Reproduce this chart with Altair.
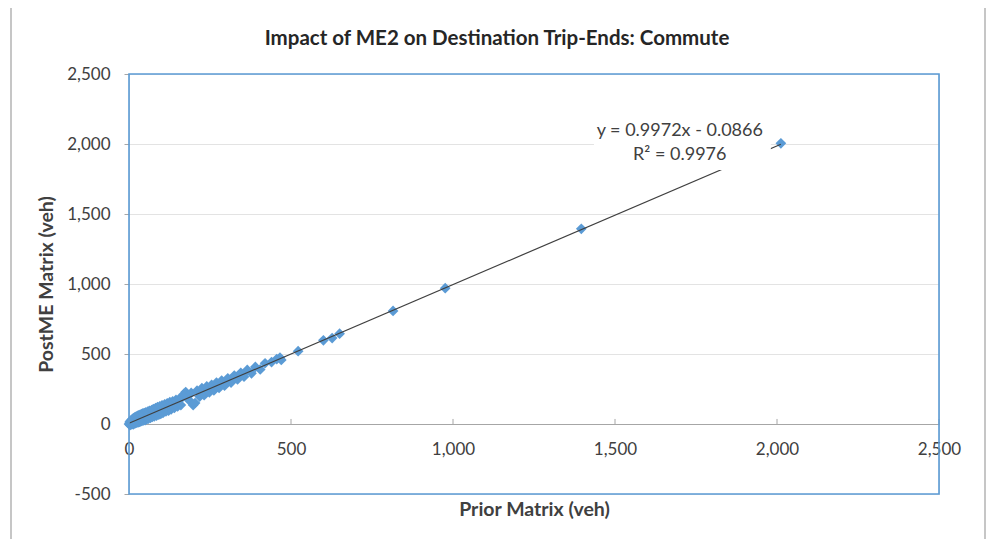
import altair as alt
import pandas as pd

# ---- data ----
prior = [0, 2, 3, 5, 6, 8, 10, 11, 13, 15, 17, 18, 20, 22, 24, 26, 28, 30, 32, 34,
         36, 38, 40, 43, 45, 47, 50, 52, 55, 58, 60, 63, 66, 70, 72, 75, 78, 82, 85, 88,
         92, 95, 98, 102, 105, 110, 114, 118, 122, 126, 130, 135, 140, 145, 150, 155, 160, 165, 170, 175,
         180, 186, 192, 198, 204, 210, 218, 225, 232, 240, 248, 255, 262, 270, 278, 286, 295, 305, 315, 325,
         335, 345, 355, 365, 378, 390, 405, 420, 440, 456, 466, 470, 522, 600, 627, 650, 815, 976, 1396, 2012]
post = [0, 14, -8, 22, -4, 28, 0, 36, -2, 42, 4, 48, 6, 52, 10, 58, 12, 62, 15, 66,
        18, 70, 22, 76, 25, 78, 28, 84, 34, 88, 38, 94, 44, 100, 50, 106, 55, 114, 60, 120,
        66, 126, 72, 134, 80, 140, 90, 148, 95, 156, 104, 162, 115, 172, 125, 180, 135, 192, 215, 228,
        196, 168, 222, 135, 150, 238, 196, 256, 206, 268, 226, 280, 240, 296, 258, 310, 274, 326, 296, 346,
        318, 366, 338, 386, 362, 408, 390, 434, 442, 464, 474, 458, 520, 598, 614, 645, 808, 970, 1394, 2005]

x_ticks = [0, 500, 1000, 1500, 2000, 2500]
y_ticks = [-500, 0, 500, 1000, 1500, 2000, 2500]
chart_title = "Impact of ME2 on Destination Trip-Ends: Commute"
x_title = "Prior Matrix (veh)"
y_title = "PostME Matrix (veh)"
eq_text = ["y = 0.9972x - 0.0866", "R² = 0.9976"]
eq_x = [1700, 1700]
eq_y = [2093, 1921]
box_x = [1435]
box_x2 = [1981]
box_y = [1814]
box_y2 = [2207]

W, H = 810, 420
BLUE = "#5b9bd5"
TXT = "#404040"
FONT = "Lato"
LABEL_EXPR = "datum.value < 0 ? '-' + format(-datum.value, ',') : format(datum.value, ',')"

df = pd.DataFrame({"prior": prior, "post": post})
xs = alt.Scale(domain=[0, 2500], nice=False, zero=False)
ys = alt.Scale(domain=[-500, 2500], nice=False, zero=False)

xa = alt.Axis(
    values=x_ticks, labelExpr=LABEL_EXPR, title=x_title, offset=-70, grid=False,
    domainColor="#a6a6a6", domainWidth=1, ticks=False, labelPadding=17,
    labelFlush=False, labelFontSize=17, labelColor=TXT, labelFont=FONT,
    titleFont=FONT, titleFontSize=19.5, titleFontWeight="bold", titleColor=TXT,
    titlePadding=43)
ya = alt.Axis(
    values=y_ticks, labelExpr=LABEL_EXPR, title=y_title, grid=True, gridColor="#e3e3e3",
    domain=False, tickSize=5, tickColor="#a6a6a6", labelPadding=14,
    labelFontSize=17, labelColor=TXT, labelFont=FONT,
    titleFont=FONT, titleFontSize=19.5, titleFontWeight="bold", titleColor=TXT,
    titlePadding=10)

points = alt.Chart(df).mark_point(
    shape="diamond", filled=True, size=115, color=BLUE, opacity=1
).encode(
    x=alt.X("prior:Q", scale=xs, axis=xa),
    y=alt.Y("post:Q", scale=ys, axis=ya),
)

trend = alt.Chart(df).transform_regression("prior", "post").mark_line(
    color="#404040", strokeWidth=1.2
).encode(
    x=alt.X("prior:Q", scale=xs, axis=xa),
    y=alt.Y("post:Q", scale=ys, axis=ya),
)

tick_df = pd.DataFrame({"prior": x_ticks, "post": [0] * len(x_ticks), "post_end": [36] * len(x_ticks)})
xticks = alt.Chart(tick_df).mark_rule(color="#a6a6a6", strokeWidth=1).encode(
    x=alt.X("prior:Q", scale=xs, axis=xa),
    y=alt.Y("post:Q", scale=ys, axis=ya),
    y2="post_end:Q",
)

box_df = pd.DataFrame({"prior": box_x, "prior2": box_x2, "post": box_y, "post2": box_y2})
box = alt.Chart(box_df).mark_rect(color="white").encode(
    x=alt.X("prior:Q", scale=xs, axis=xa), x2="prior2:Q",
    y=alt.Y("post:Q", scale=ys, axis=ya), y2="post2:Q",
)

eq_df = pd.DataFrame({"prior": eq_x, "post": eq_y, "label": eq_text})
eq = alt.Chart(eq_df).mark_text(
    font=FONT, fontSize=18, color=TXT, align="center", baseline="middle"
).encode(
    x=alt.X("prior:Q", scale=xs, axis=xa),
    y=alt.Y("post:Q", scale=ys, axis=ya),
    text="label:N",
)

frame_df = pd.DataFrame({"k": [0]})
frame = alt.Chart(frame_df).mark_rect(fillOpacity=0, stroke=BLUE, strokeWidth=1.6).encode(
    x=alt.value(0), x2=alt.value(W), y=alt.value(0), y2=alt.value(H)
)
outer = alt.Chart(frame_df).mark_rect(fillOpacity=0, stroke="#b4b4b4", strokeWidth=1.5).encode(
    x=alt.value(-118), x2=alt.value(856), y=alt.value(-68), y2=alt.value(480)
)

chart = alt.layer(points, outer, xticks, trend, box, eq, frame).properties(
    width=W, height=H,
    title=alt.TitleParams(chart_title, anchor="middle", frame="group", dx=-37, dy=62,
                          font=FONT, fontSize=20.5, fontWeight="bold", color="#262626",
                          offset=18),
    autosize=alt.AutoSizeParams(type="none"),
    padding={"left": 121, "top": 66, "right": 50, "bottom": 45},
).configure_view(stroke="transparent").configure(background="white")

chart.save("out.html", embed_options={"renderer": "svg", "actions": False})
